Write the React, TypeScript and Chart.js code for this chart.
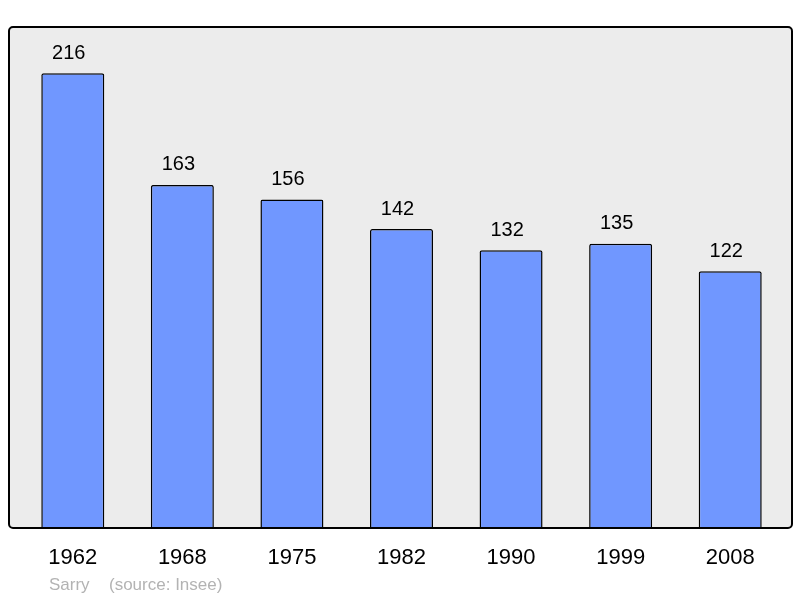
import React, { useEffect, useRef } from "react";
import { Chart, registerables } from "chart.js";

Chart.register(...registerables);

const years = ["1962", "1968", "1975", "1982", "1990", "1999", "2008"];
const population = [216, 163, 156, 142, 132, 135, 122];
const yMax = 238;
const footerName = "Sarry";
const footerSource = "(source: Insee)";

const FONT = "'Liberation Sans', Arial, sans-serif";

function roundRect(ctx: CanvasRenderingContext2D, x: number, y: number, w: number, h: number, r: number) {
  ctx.beginPath();
  ctx.moveTo(x + r, y);
  ctx.lineTo(x + w - r, y);
  ctx.arcTo(x + w, y, x + w, y + r, r);
  ctx.lineTo(x + w, y + h - r);
  ctx.arcTo(x + w, y + h, x + w - r, y + h, r);
  ctx.lineTo(x + r, y + h);
  ctx.arcTo(x, y + h, x, y + h - r, r);
  ctx.lineTo(x, y + r);
  ctx.arcTo(x, y, x + r, y, r);
  ctx.closePath();
}

const framePath = (chart: any) => {
  const { ctx, chartArea } = chart;
  roundRect(ctx, chartArea.left - 9, chartArea.top, chartArea.right - chartArea.left + 16, chartArea.bottom - chartArea.top, 4);
};

const framePlugin = {
  id: "frame",
  beforeDraw(chart: any) {
    const { ctx } = chart;
    ctx.save();
    framePath(chart);
    ctx.fillStyle = "#ececec";
    ctx.fill();
    ctx.restore();
  },
  afterDatasetsDraw(chart: any) {
    const { ctx, scales } = chart;
    ctx.save();
    framePath(chart);
    ctx.strokeStyle = "#000";
    ctx.lineWidth = 2;
    ctx.stroke();

    const meta = chart.getDatasetMeta(0);
    ctx.fillStyle = "#000";
    ctx.textAlign = "center";
    ctx.textBaseline = "middle";
    ctx.font = `20px ${FONT}`;
    meta.data.forEach((bar: any, i: number) => {
      ctx.fillText(String(population[i]), bar.x - 4, bar.y - 20);
    });
    ctx.font = `22px ${FONT}`;
    years.forEach((y, i) => {
      ctx.fillText(y, scales.x.getPixelForValue(i), 558);
    });
    ctx.fillStyle = "#b3b3b3";
    ctx.textAlign = "left";
    ctx.font = `17px ${FONT}`;
    ctx.fillText(footerName, 49, 585);
    ctx.fillText(footerSource, 109, 585);
    ctx.restore();
  },
};

export default function App() {
  const ref = useRef<HTMLCanvasElement>(null);
  useEffect(() => {
    document.body.style.margin = "0";
    const chart = new Chart(ref.current!, {
      type: "bar",
      data: {
        labels: years,
        datasets: [
          {
            data: population,
            backgroundColor: "#7097ff",
            borderColor: "#000",
            borderWidth: 1.5,
            borderRadius: 2,
            borderSkipped: "bottom",
            barPercentage: 0.575,
            categoryPercentage: 1,
          },
        ],
      },
      options: {
        animation: false,
        responsive: false,
        events: [],
        layout: { padding: { left: 18, right: 15, top: 27, bottom: 70 } },
        plugins: { legend: { display: false }, tooltip: { enabled: false } },
        scales: {
          x: { display: false, offset: true },
          y: { display: false, min: 0, max: yMax },
        },
      },
      plugins: [framePlugin],
    });
    return () => chart.destroy();
  }, []);
  return (
    <div style={{ position: "absolute", left: 0, top: 0, width: 800, height: 598, background: "#fff" }}>
      <canvas ref={ref} width={800} height={598} style={{ display: "block", width: 800, height: 598 }} />
    </div>
  );
}
